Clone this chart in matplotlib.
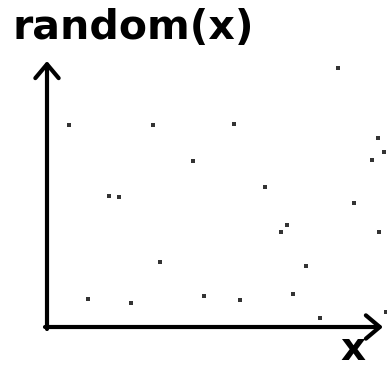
import matplotlib
matplotlib.use("Agg")
from matplotlib import pyplot as plt

# sample points, measured from the origin of the two axes (x right, y up)
xs = [22, 106, 146, 291, 187, 218, 331, 337, 325, 62, 72, 113,
      41, 84, 307, 240, 234, 332, 259, 157, 193, 246, 273, 339]
ys = [202, 202, 166, 259, 203, 140, 189, 175, 167, 131, 130, 65,
      28, 24, 124, 102, 95, 95, 61, 31, 27, 33, 9, 15]

xAxisEnd = 336
yAxisEnd = 266

fig = plt.figure(figsize=(3.87, 3.69), dpi=100)
ax = fig.add_axes([0, 0, 1, 1])
ax.set_xlim(-47, 340)
ax.set_ylim(-42, 327)
ax.axis("off")

arrowStyle = dict(arrowstyle="->,head_length=0.5,head_width=0.42",
                  lw=3, color="k", mutation_scale=20, shrinkA=0, shrinkB=0)
ax.annotate("", xy=(xAxisEnd, 0), xytext=(-2, 0), arrowprops=arrowStyle)
ax.annotate("", xy=(0, yAxisEnd), xytext=(0, -2), arrowprops=arrowStyle)

ax.scatter(xs, ys, marker="s", s=5, color="#333333", linewidths=0, zorder=3)

fig.text(13 / 387, 1 - 39 / 369, "random(x)", fontsize=29.5, fontweight="bold",
         ha="left", va="baseline")
fig.text(340 / 387, 1 / 369, "x", fontsize=28, fontweight="bold",
         ha="left", va="bottom")

fig.savefig("out.png", dpi=100)
